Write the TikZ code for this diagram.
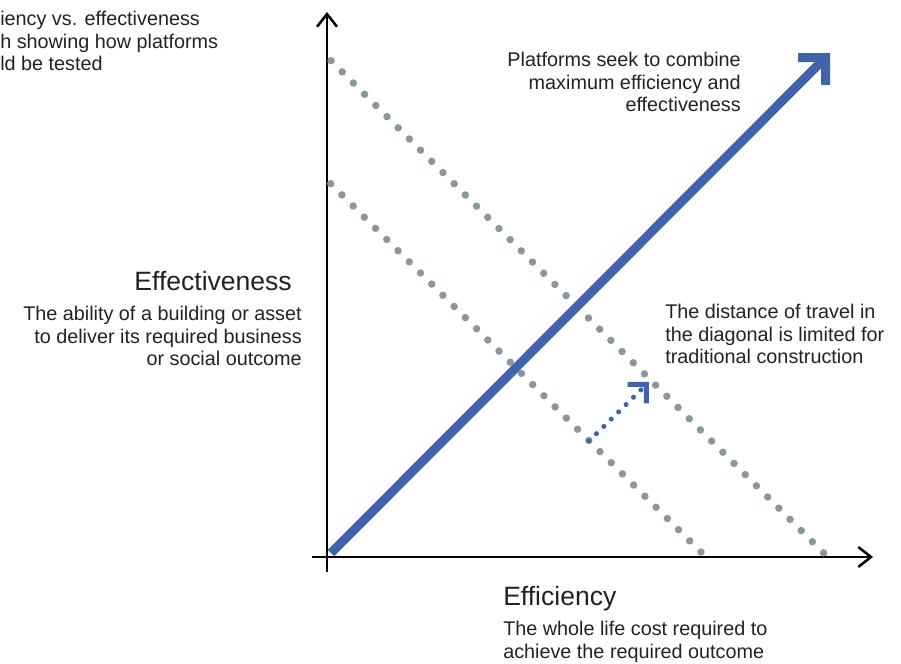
\documentclass[tikz,border=0pt]{standalone}
\usepackage{fontspec}
\setmainfont{Liberation Sans}
\usetikzlibrary{arrows.meta}
\definecolor{platblue}{HTML}{4262AE}
\definecolor{dotgrey}{HTML}{8A979F}
\definecolor{inkgrey}{HTML}{222222}

\begin{document}
\begin{tikzpicture}[x=0.75pt,y=-0.75pt,
    axis/.style={line width=1.9pt,-{Straight Barb[length=9.5pt,width=15pt]}},
    travel/.style={dotgrey,line width=5.6pt,line cap=round,dash pattern=on 0pt off 11.87pt},
    body/.style={inner sep=0pt,text=inkgrey,font=\fontsize{14.85}{16.9}\selectfont},
    heading/.style={inner sep=0pt,text=inkgrey,font=\fontsize{19.9}{23}\selectfont}]
  \useasboundingbox (0,0) rectangle (901,664);

  \coordinate (O) at (331,553);
  \coordinate (XL) at (312,557);
  \coordinate (XR) at (873,557);
  \coordinate (YB) at (327,572);
  \coordinate (YT) at (327,12);
  \draw [axis] (XL) to (XR);
  \draw [axis] (YB) to (YT);

  \coordinate (P1) at (331,60.7);
  \coordinate (P2) at (824,553.3);
  \coordinate (T1) at (330.7,183.7);
  \coordinate (T2) at (702,553);
  \draw [travel] (P1) to (P2);
  \draw [travel] (T1) to (T2);

  \coordinate (M) at (830,53);
  \draw [platblue,line width=6.75pt,-{Straight Barb[length=14.5pt,width=29pt]}] (O) to (M);

  \coordinate (S1) at (589,441);
  \coordinate (S2) at (649,382);
  \draw [platblue,line width=3.8pt,line cap=round,dash pattern=on 0pt off 7.8pt,
    -{Straight Barb[length=10pt,width=20pt]}] (S1) to (S2);

  \node (title) at (0,11) [body,anchor=north west,align=left]
    {iency vs. effectiveness\\h showing how platforms\\ld be tested};
  \node (aim) at (741,52) [body,anchor=north east,align=right]
    {Platforms seek to combine\\maximum efficiency and\\effectiveness};
  \node (yname) at (292,290) [heading,anchor=base east] {Effectiveness};
  \node (ydef) at (302,306) [body,anchor=north east,align=right]
    {The ability of a building or asset\\to deliver its required business\\or social outcome};
  \node (limit) at (665,304) [body,anchor=north west,align=left]
    {The distance of travel in\\the diagonal is limited for\\traditional construction};
  \node (xname) at (503,605) [heading,anchor=base west] {Efficiency};
  \node (xdef) at (503,621) [body,anchor=north west,align=left]
    {The whole life cost required to\\achieve the required outcome};
\end{tikzpicture}
\end{document}
